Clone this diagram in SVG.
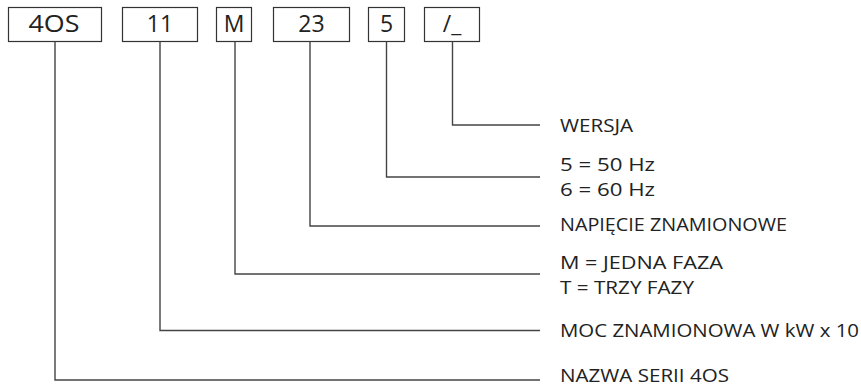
<svg xmlns="http://www.w3.org/2000/svg" width="861" height="387" viewBox="0 0 861 387">
<style>
.box{fill:#fff;stroke:#333;stroke-width:1.2}
.bt{font-family:"Open Sans","Noto Sans",sans-serif;font-size:23px;fill:#222;text-anchor:middle}
.lt{font-family:"Open Sans","Noto Sans",sans-serif;font-size:18.5px;fill:#222}
.c{fill:none;stroke:#444;stroke-width:1.4}
</style>
<rect width="861" height="387" fill="#fff"/>
<g id="n-4os"><rect class="box" x="8.5" y="7.5" width="93" height="34"/><text class="bt" x="54" y="32" textLength="51" lengthAdjust="spacingAndGlyphs">4OS</text></g>
<g id="n-11"><rect class="box" x="122.5" y="7.5" width="75" height="34"/><text class="bt" x="160" y="32">11</text></g>
<g id="n-m"><rect class="box" x="216.5" y="7.5" width="35" height="34"/><text class="bt" x="234" y="32">M</text></g>
<g id="n-23"><rect class="box" x="273.5" y="7.5" width="76" height="34"/><text class="bt" x="311.5" y="32">23</text></g>
<g id="n-5"><rect class="box" x="368.5" y="7.5" width="36" height="34"/><text class="bt" x="386.5" y="32">5</text></g>
<g id="n-ver"><rect class="box" x="424.5" y="7.5" width="55" height="34"/><text class="bt" x="452" y="32">/_</text></g>
<g id="connectors">
<path class="c" d="M55,41.5V380H540"/>
<path class="c" d="M160,41.5V330.5H540"/>
<path class="c" d="M235,41.5V274H540"/>
<path class="c" d="M310,41.5V226H540"/>
<path class="c" d="M386.5,41.5V177H540"/>
<path class="c" d="M452.5,41.5V125H540"/>
</g>
<g id="labels">
<text class="lt" x="560" y="132" textLength="73" lengthAdjust="spacingAndGlyphs">WERSJA</text>
<text class="lt" x="560" y="170.5" textLength="95" lengthAdjust="spacingAndGlyphs">5 = 50 Hz</text>
<text class="lt" x="560" y="195.5" textLength="95" lengthAdjust="spacingAndGlyphs">6 = 60 Hz</text>
<text class="lt" x="560" y="231" textLength="227" lengthAdjust="spacingAndGlyphs">NAPIĘCIE ZNAMIONOWE</text>
<text class="lt" x="560" y="269" textLength="163" lengthAdjust="spacingAndGlyphs">M = JEDNA FAZA</text>
<text class="lt" x="560" y="294" textLength="134" lengthAdjust="spacingAndGlyphs">T = TRZY FAZY</text>
<text class="lt" x="560" y="336.5" textLength="299" lengthAdjust="spacingAndGlyphs">MOC ZNAMIONOWA W kW x 10</text>
<text class="lt" x="560" y="381.5" textLength="169" lengthAdjust="spacingAndGlyphs">NAZWA SERII 4OS</text>
</g>
</svg>
